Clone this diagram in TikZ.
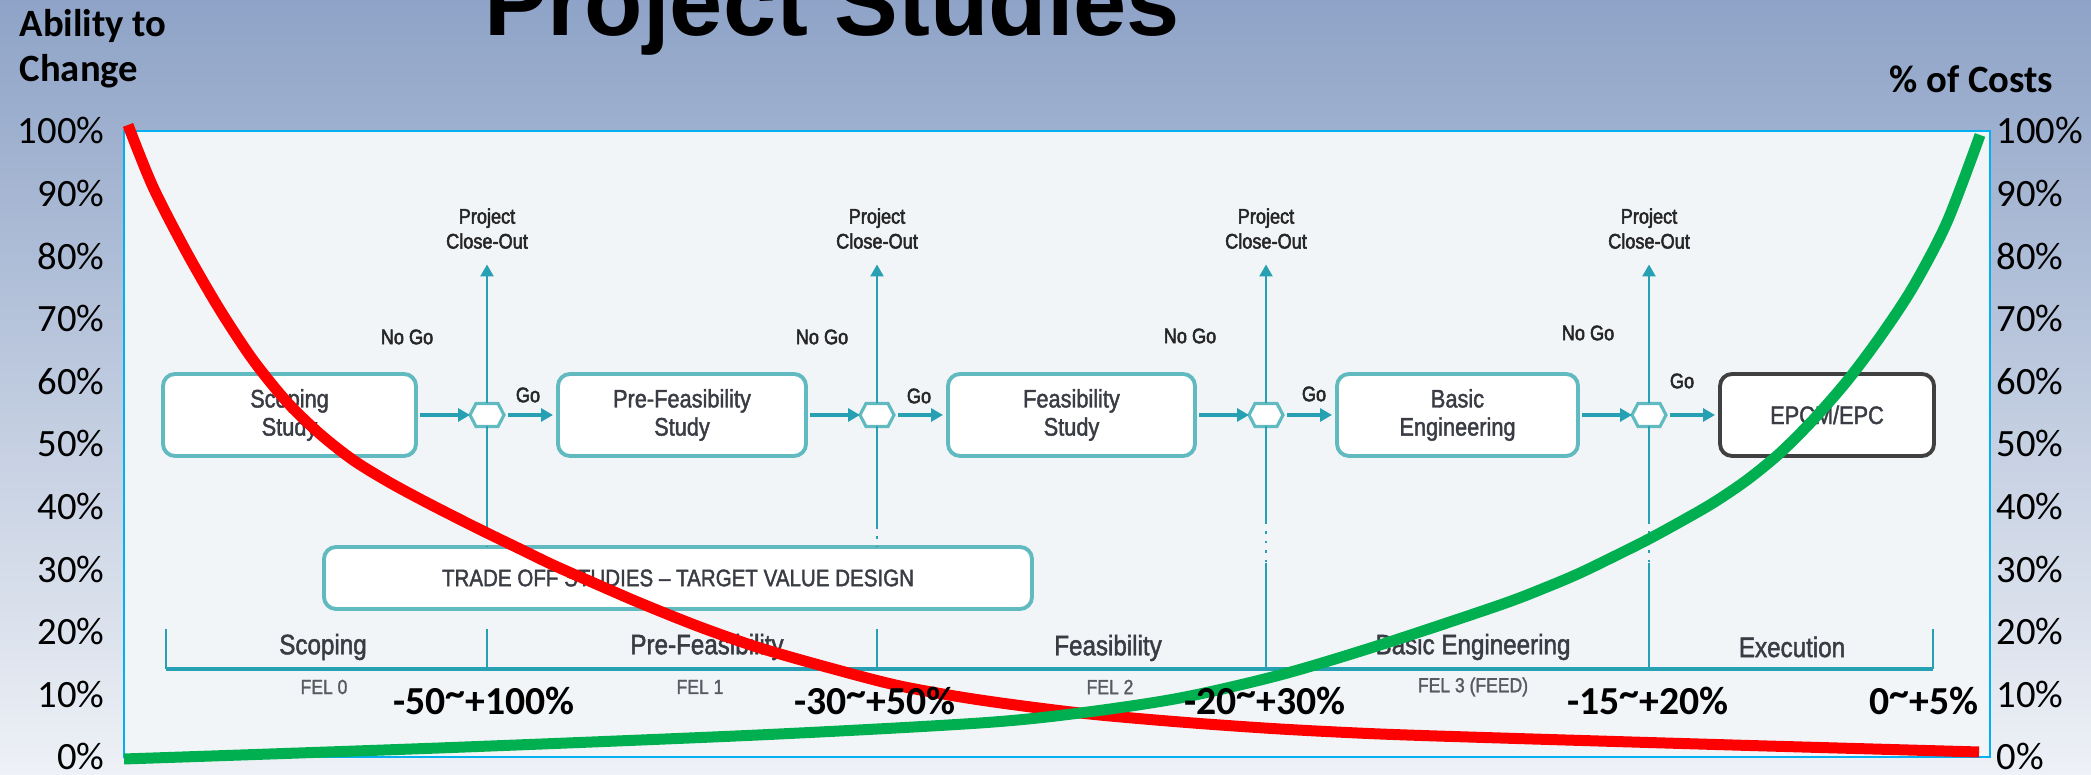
\documentclass[tikz,border=0pt]{standalone}
\usepackage{fontspec}
\setmainfont{Carlito}
\newfontfamily\flowfont[FakeStretch=0.86, FakeBold=1.6]{Liberation Sans}
\newfontfamily\gatefont[FakeStretch=0.86, FakeBold=2.4]{Liberation Sans}
\newfontfamily\titlefont{Liberation Sans}
\usetikzlibrary{shapes.symbols, arrows.meta, positioning}

\definecolor{flowteal}{RGB}{38,160,178}
\definecolor{boxteal}{RGB}{96,186,192}
\definecolor{flowtext}{RGB}{58,60,68}
\definecolor{fellgray}{RGB}{88,90,98}
\definecolor{panelfill}{RGB}{242,245,248}
\definecolor{panelline}{RGB}{0,176,240}
\definecolor{bgtop}{RGB}{142,163,199}
\definecolor{bgbottom}{RGB}{238,241,246}
\definecolor{costgreen}{RGB}{0,176,80}

\newcommand{\upt}{\raisebox{0.22em}{\textasciitilde}}

\begin{document}
\begin{tikzpicture}[
        node distance=0.54cm,
        stagebox/.style={rectangle, rounded corners=0.12cm, minimum height=0.82cm, inner sep=0pt, outer sep=0pt, align=center, draw=boxteal, line width=1.1pt, fill=white, text=flowtext, font=\flowfont\fontsize{7.2}{8}\selectfont},
        gatehex/.style={signal, signal to=east and west, signal pointer angle=125, minimum width=0.34cm, minimum height=0.23cm, inner sep=0pt, outer sep=0pt, draw=boxteal, line width=0.9pt, fill=white},
        arrow/.style={-{Triangle[length=1.2mm, width=1.3mm]}, draw=flowteal, line width=0.9pt},
        flowline/.style={draw=flowteal, line width=0.7pt},
        closelbl/.style={align=center, inner sep=0.05cm, text=black!85, font=\gatefont\fontsize{6.0}{7.1}\selectfont},
        golbl/.style={inner sep=0pt, text=black!85, font=\gatefont\fontsize{6.0}{7.1}\selectfont},
        phaselbl/.style={inner sep=0pt, text=flowtext, font=\flowfont\fontsize{8.0}{9}\selectfont},
        fellbl/.style={inner sep=0pt, text=fellgray, font=\flowfont\fontsize{5.8}{6.5}\selectfont},
        ticklbl/.style={inner sep=0pt, font=\fontsize{11}{13}\selectfont},
        axistitle/.style={inner sep=0pt, font=\bfseries\fontsize{11}{13}\selectfont},
        rangelbl/.style={inner sep=0pt, anchor=base, font=\bfseries\fontsize{11.3}{13}\selectfont},
        curve/.style={line width=0.11cm}
    ]
    \useasboundingbox (0,0) rectangle (20.91,7.75);
    \clip (0,0) rectangle (20.91,7.75);

    % Slide background and chart area
    \shade [top color=bgtop, bottom color=bgbottom] (0,0) rectangle (20.91,7.75);
    \draw [panelline, line width=0.6pt, fill=panelfill] (1.24,0.18) rectangle (19.90,6.44);

    % Stage gates
    \node (scoping) [stagebox, minimum width=2.53cm] at (2.895,3.60) {Scoping\\Study};
    \node (hexa) [gatehex, right=of scoping] {};
    \node (prefeas) [stagebox, minimum width=2.48cm, right=of hexa] {Pre-Feasibility\\Study};
    \node (hexb) [gatehex, right=of prefeas] {};
    \node (feas) [stagebox, minimum width=2.47cm, right=of hexb] {Feasibility\\Study};
    \node (hexc) [gatehex, right=of feas] {};
    \node (basic) [stagebox, minimum width=2.41cm, right=of hexc] {Basic\\Engineering};
    \node (hexd) [gatehex, right=of basic] {};
    \node (epc) [stagebox, draw=black!75, minimum width=2.14cm, right=of hexd] {EPCM/EPC};

    \node (trade) [stagebox, minimum width=7.08cm, minimum height=0.62cm, font=\flowfont\fontsize{6.8}{8}\selectfont] at (6.78,1.97) {TRADE OFF STUDIES – TARGET VALUE DESIGN};

    % Close-out exits
    \node (closea) [closelbl, above=1.49cm of hexa] {Project\\Close-Out};
    \node (closeb) [closelbl, above=1.49cm of hexb] {Project\\Close-Out};
    \node (closec) [closelbl, above=1.49cm of hexc] {Project\\Close-Out};
    \node (closed) [closelbl, above=1.49cm of hexd] {Project\\Close-Out};

    \node (nogoa) [golbl] at (4.07,4.38) {No Go};
    \node (nogob) [golbl] at (8.22,4.38) {No Go};
    \node (nogoc) [golbl] at (11.90,4.39) {No Go};
    \node (nogod) [golbl] at (15.88,4.42) {No Go};

    \node (goa) [golbl] at (5.28,3.80) {Go};
    \node (gob) [golbl] at (9.19,3.79) {Go};
    \node (goc) [golbl] at (13.14,3.81) {Go};
    \node (god) [golbl] at (16.82,3.94) {Go};

    % Arrows along the gates
    \draw [arrow, shorten <=0.04cm] (scoping) -- (hexa);
    \draw [arrow, shorten <=0.04cm, shorten >=0.05cm] (hexa) -- (prefeas);
    \draw [arrow, shorten <=0.04cm] (prefeas) -- (hexb);
    \draw [arrow, shorten <=0.04cm, shorten >=0.05cm] (hexb) -- (feas);
    \draw [arrow, shorten <=0.04cm] (feas) -- (hexc);
    \draw [arrow, shorten <=0.04cm, shorten >=0.05cm] (hexc) -- (basic);
    \draw [arrow, shorten <=0.04cm] (basic) -- (hexd);
    \draw [arrow, shorten <=0.04cm, shorten >=0.05cm] (hexd) -- (epc);

    \foreach \g/\c in {hexa/closea, hexb/closeb, hexc/closec, hexd/closed}
        \draw [arrow, line width=0.7pt, shorten >=0.10cm] (\g) -- (\c);

    % Phase bar
    \coordinate (barl) at (1.66,1.06);
    \coordinate (barr) at (19.33,1.06);
    \draw [flowline, line width=0.9pt] (barl) -- (barr);
    \foreach \t in {barl, hexa, hexb, barr}
        \draw [flowline] (\t |- barl) -- ++(0,0.40);

    % Lines down from the gates
    \draw [flowline] (hexa) -- ++(0,-1.12) coordinate (cuta);
    \draw [flowline, dotted] (cuta) -- (cuta |- trade.north);
    \draw [flowline] (hexb) -- ++(0,-1.12) coordinate (cutb);
    \draw [flowline, dotted] (cutb) -- (cutb |- trade.north);
    \draw [flowline] (hexc) -- ++(0,-1.07) coordinate (cutc);
    \draw [flowline, dotted] (cutc) -- ++(0,-0.41) coordinate (resc);
    \draw [flowline] (resc) -- (resc |- barl);
    \draw [flowline] (hexd) -- ++(0,-1.07) coordinate (cutd);
    \draw [flowline, dotted] (cutd) -- ++(0,-0.41) coordinate (resd);
    \draw [flowline] (resd) -- (resd |- barl);

    \node (phasea) [phaselbl] at (3.23,1.28) {Scoping};
    \node (phaseb) [phaselbl] at (7.07,1.28) {Pre-Feasibility};
    \node (phasec) [phaselbl] at (11.08,1.27) {Feasibility};
    \node (phased) [phaselbl] at (14.73,1.28) {Basic Engineering};
    \node (phasee) [phaselbl] at (17.92,1.28) {Execution};

    \node (fela) [fellbl] at (3.24,0.88) {FEL 0};
    \node (felb) [fellbl] at (7.00,0.88) {FEL 1};
    \node (felc) [fellbl] at (11.10,0.88) {FEL 2};
    \node (feld) [fellbl] at (14.73,0.88) {FEL 3 (FEED)};

    % Ability to change and share of costs
    \draw [red, curve] plot [smooth] coordinates {(1.28,6.50) (1.53,5.88) (1.87,5.22) (2.20,4.65) (2.53,4.15) (2.87,3.73) (3.20,3.41) (3.53,3.15) (3.87,2.94) (4.20,2.76) (4.53,2.59) (4.87,2.42) (5.20,2.26) (5.53,2.10) (5.87,1.95) (6.40,1.72) (7.00,1.48) (7.60,1.27) (8.30,1.07) (9.00,0.89) (9.80,0.75) (10.80,0.62) (11.80,0.53) (12.80,0.46) (13.80,0.41) (15.00,0.37) (17.32,0.30) (19.79,0.23)};
    \draw [costgreen, curve] plot [smooth] coordinates {(1.24,0.16) (4.39,0.27) (7.58,0.40) (9.80,0.52) (10.80,0.62) (11.80,0.77) (12.80,1.00) (13.80,1.30) (15.00,1.70) (15.47,1.88) (15.80,2.02) (16.13,2.18) (16.47,2.35) (16.80,2.53) (17.13,2.72) (17.47,2.95) (17.80,3.22) (18.13,3.55) (18.47,3.94) (18.80,4.38) (19.13,4.88) (19.47,5.53) (19.80,6.40)};

    % Estimate accuracy per gate
    \foreach \x/\r [count=\i] in {4.84/{-50\upt+100\%}, 8.75/{-30\upt+50\%}, 12.65/{-20\upt+30\%}, 16.48/{-15\upt+20\%}, 19.24/{0\upt+5\%}}
        \node (range\i) [rangelbl] at (\x,0.60) {\r};

    % Axes
    \foreach \k [evaluate=\k as \p using int(10*\k)] in {0,...,10} {
        \node (leftk\k) [ticklbl, anchor=base east] at (1.05,{0.05+0.626*\k}) {\p\%};
        \node (rightk\k) [ticklbl, anchor=base west] at (19.96,{0.05+0.626*\k}) {\p\%};
    }
    \node (abilitylbl) [axistitle, anchor=base west] at (0.19,7.38) {Ability to};
    \node (changelbl) [axistitle, anchor=base west] at (0.19,6.93) {Change};
    \node (costlbl) [axistitle, anchor=base east] at (20.54,6.82) {\% of Costs};

    \node (title) [inner sep=0pt, anchor=base, font=\titlefont\bfseries\fontsize{27.2}{30}\selectfont] at (8.32,7.39) {Project Studies};
\end{tikzpicture}
\end{document}
